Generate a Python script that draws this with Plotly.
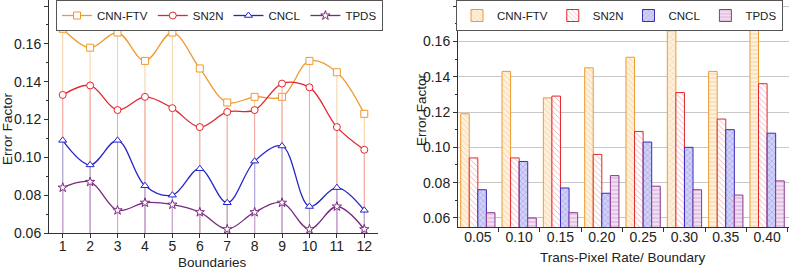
import plotly.graph_objects as go

# ---------------- data ----------------
boundaries = list(range(1, 13))
cnn_ftv_line = [0.168, 0.158, 0.166, 0.151, 0.166, 0.147, 0.129, 0.132, 0.132, 0.151, 0.145, 0.123]
sn2n_line = [0.133, 0.138, 0.125, 0.132, 0.126, 0.116, 0.124, 0.125, 0.139, 0.137, 0.116, 0.104]
cncl_line = [0.109, 0.096, 0.109, 0.085, 0.080, 0.094, 0.076, 0.098, 0.106, 0.074, 0.084, 0.072]
tpds_line = [0.084, 0.087, 0.072, 0.076, 0.075, 0.071, 0.062, 0.071, 0.076, 0.062, 0.074, 0.062]

rates = ["0.05", "0.10", "0.15", "0.20", "0.25", "0.30", "0.35", "0.40"]
cnn_ftv_bar = [0.119, 0.143, 0.128, 0.145, 0.151, 0.166, 0.143, 0.168]
sn2n_bar = [0.094, 0.094, 0.129, 0.096, 0.109, 0.131, 0.116, 0.136]
cncl_bar = [0.076, 0.092, 0.077, 0.074, 0.103, 0.100, 0.110, 0.108]
tpds_bar = [0.063, 0.060, 0.063, 0.084, 0.078, 0.076, 0.073, 0.081]

series_names = ["CNN-FTV", "SN2N", "CNCL", "TPDS"]
y_floor = 0.06

# ---------------- styles ----------------
line_colors = ["#EE9A2E", "#E3262E", "#2424C8", "#7A2A7E"]
drop_colors = ["#F6D2A2", "#F2A6A6", "#A8A8E6", "#CFA8D2"]
symbols = ["square", "circle", "triangle-up", "star"]
bar_bg = ["#FDF0DE", "#FFFFFF", "#D2D2F6", "#F0DFF1"]
bar_fg = ["#F0A848", "#E8484E", "#4A4AD8", "#A860AC"]
bar_line = ["#EE9A2E", "#E3262E", "#3A2AC0", "#8A3A90"]
cnn_shapes = ["\\", "\\", "\\", "\\", "\\", "x", "-", "-"]
bar_shapes = [cnn_shapes, ["\\"] * 8, ["x"] * 8, ["-"] * 8]

FONT = "Liberation Sans, Arial, sans-serif"
W, H = 789, 269

fig = go.Figure()

line_data = [cnn_ftv_line, sn2n_line, cncl_line, tpds_line]
for name, ys, lc, dc, sym in zip(series_names, line_data, line_colors, drop_colors, symbols):
    fig.add_trace(go.Scatter(
        x=boundaries, y=ys, name=name, mode="lines+markers",
        line=dict(color=lc, width=1.3, shape="spline", smoothing=1.0),
        marker=dict(symbol=sym, size=7, color="white", line=dict(color=lc, width=1)),
        error_y=dict(type="data", symmetric=False, array=[0] * len(ys),
                     arrayminus=[v - y_floor for v in ys], width=0, thickness=1, color=dc),
        xaxis="x", yaxis="y", legend="legend",
    ))

bar_data = [cnn_ftv_bar, sn2n_bar, cncl_bar, tpds_bar]
for i, (name, ys) in enumerate(zip(series_names, bar_data)):
    fig.add_trace(go.Bar(
        x=rates, y=ys, name=name,
        marker=dict(color=bar_bg[i], line=dict(color=bar_line[i], width=1),
                    pattern=dict(shape=bar_shapes[i], fgcolor=bar_fg[i], bgcolor=bar_bg[i],
                                 size=4, solidity=0.2, fillmode="overlay")),
        xaxis="x2", yaxis="y2", legend="legend2",
    ))

axis_common = dict(
    showline=True, linecolor="#333333", linewidth=1, ticks="outside", ticklen=4,
    tickcolor="#333333", tickfont=dict(family=FONT, size=14, color="#222222"), zeroline=False,
    automargin=False,
)
title_font = dict(family=FONT, size=13.5, color="#222222")
legend_font = dict(family=FONT, size=11.5, color="#222222")

fig.update_layout(
    width=W, height=H, margin=dict(l=0, r=0, t=0, b=0, autoexpand=False),
    paper_bgcolor="white", plot_bgcolor="white",
    font=dict(family=FONT, color="#222222"),
    barmode="group", bargap=0.17, bargroupgap=0.0,
    xaxis=dict(domain=[49 / W, 378 / W], range=[0.5, 12.5], tickmode="array",
               tickvals=boundaries, showgrid=False, anchor="y", ticklabelstandoff=-4,
               **axis_common),
    yaxis=dict(domain=[1 - 233 / H, 1.0], range=[0.06, 0.1832], tickmode="array",
               tickvals=[0.06, 0.08, 0.10, 0.12, 0.14, 0.16, 0.18], tickformat=".2f",
               showgrid=False, anchor="x",
               minor=dict(ticks="outside", ticklen=2, tickcolor="#333333", dtick=0.01, showgrid=False),
               **axis_common),
    xaxis2=dict(domain=[458 / W, 1.0], range=[-0.48, 7.53], showgrid=False, anchor="y2",
                tickson="boundaries", ticklabelstandoff=-3, **axis_common),
    yaxis2=dict(domain=[1 - 227 / H, 1.0], range=[0.0549, 0.1834], tickmode="array",
                tickvals=[0.06, 0.08, 0.10, 0.12, 0.14, 0.16, 0.18], tickformat=".2f",
                showgrid=True, gridcolor="#C8C8C8", gridwidth=1, anchor="x2",
                minor=dict(ticks="outside", ticklen=2, tickcolor="#333333", dtick=0.01, showgrid=False),
                **axis_common),
    legend=dict(orientation="h", x=56 / W, y=1.0, xanchor="left", yanchor="top",
                bordercolor="#555555", borderwidth=1, bgcolor="white",
                font=legend_font, itemwidth=30, tracegroupgap=0),
    legend2=dict(orientation="h", x=456 / W, y=1.0, xanchor="left", yanchor="top",
                 bordercolor="#555555", borderwidth=1, bgcolor="white",
                 font=legend_font, itemwidth=30, tracegroupgap=0),
    annotations=[
        dict(text="Error Factor", x=7 / W, y=1 - 129 / H, xref="paper", yref="paper",
             xanchor="center", yanchor="middle",
             textangle=-90, showarrow=False, font=title_font),
        dict(text="Boundaries", x=213 / W, y=1 - 262 / H, xref="paper", yref="paper",
             xanchor="center", yanchor="middle", showarrow=False, font=title_font),
        dict(text="Error Factor", x=421 / W, y=1 - 110 / H, xref="paper", yref="paper",
             xanchor="center", yanchor="middle",
             textangle=-90, showarrow=False, font=title_font),
        dict(text="Trans-Pixel Rate/ Boundary", x=623 / W, y=1 - 257 / H, xref="paper", yref="paper",
             xanchor="center", yanchor="middle", showarrow=False, font=title_font),
    ],
)

fig.write_html("out.html", config={"displayModeBar": False},
               post_script="document.body.style.margin='0';document.body.style.overflow='hidden';")
